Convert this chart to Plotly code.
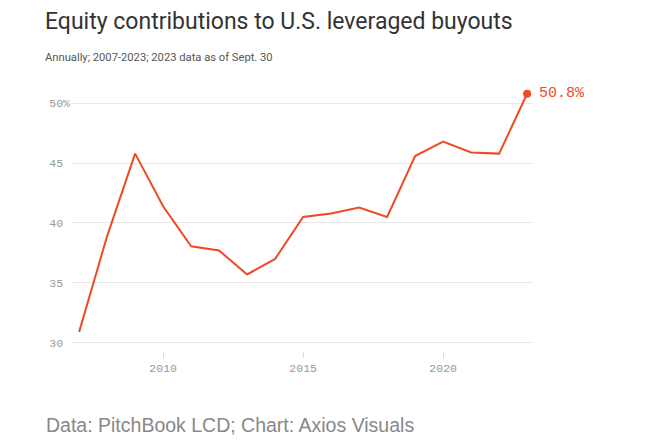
import plotly.graph_objects as go

years = list(range(2007, 2024))
equity_share = [30.9, 38.9, 45.8, 41.4, 38.05, 37.7, 35.7, 37.0, 40.5, 40.8, 41.3, 40.5, 45.6, 46.8, 45.9, 45.8, 50.8]
y_ticks = [30, 35, 40, 45, 50]
y_tick_labels = ["30\u00a0", "35\u00a0", "40\u00a0", "45\u00a0", "50%"]
x_ticks = [2010, 2015, 2020]

LINE = "#EE4B23"
MONO = "Liberation Mono, DejaVu Sans Mono, monospace"

# page body adds an 8px offset; layout is computed in reference pixels minus 8
OFF = 8
L, R, T, B = 71 - OFF, 533 - OFF, 89 - OFF, 351 - OFF

fig = go.Figure()
fig.add_trace(go.Scatter(
    x=years, y=equity_share, mode="lines",
    line=dict(color=LINE, width=2), hoverinfo="skip", showlegend=False,
))
fig.add_trace(go.Scatter(
    x=[years[-1]], y=[equity_share[-1]], mode="markers",
    marker=dict(color=LINE, size=8),
    cliponaxis=False, hoverinfo="skip", showlegend=False,
))
fig.add_annotation(
    x=years[-1], y=equity_share[-1], xref="x", yref="y",
    text=f"{equity_share[-1]:.1f}%", showarrow=False, xanchor="left", yanchor="middle",
    xshift=10, font=dict(family=MONO, size=15, color=LINE),
)

fig.update_layout(
    width=660, height=445,
    margin=dict(l=L, r=660 - R, t=T, b=445 - B),
    paper_bgcolor="white", plot_bgcolor="white",
    xaxis=dict(
        range=[2006.71, 2023.21], tickvals=x_ticks, showgrid=False, zeroline=False,
        showline=False, ticks="outside", ticklen=6, tickcolor="#dddddd",
        tickfont=dict(family=MONO, size=11.5, color="#999999"),
    ),
    yaxis=dict(
        range=[29.3, 51.2], tickvals=y_ticks, ticktext=y_tick_labels,
        showgrid=True, gridcolor="#e8e8e8", gridwidth=1, zeroline=False, showline=False,
        ticks="", tickfont=dict(family=MONO, size=11.5, color="#999999"),
    ),
)

ph = B - T
pw = R - L
def py(pix):
    return (B - (pix - OFF)) / ph
def px(pix):
    return ((pix - OFF) - L) / pw

fig.add_annotation(text="Equity contributions to U.S. leveraged buyouts", xref="paper", yref="paper",
                   x=px(43), y=py(22), xanchor="left", yanchor="middle", showarrow=False,
                   font=dict(family="Roboto", size=23, color="#333333"))
fig.add_annotation(text="Annually; 2007-2023; 2023 data as of Sept. 30", xref="paper", yref="paper",
                   x=px(43), y=py(57), xanchor="left", yanchor="middle", showarrow=False,
                   font=dict(family="Roboto", size=11.2, color="#555555"))
fig.add_annotation(text="Data: PitchBook LCD; Chart: Axios Visuals", xref="paper", yref="paper",
                   x=px(44), y=py(425), xanchor="left", yanchor="middle", showarrow=False,
                   font=dict(family="Liberation Sans, Arial", size=19.5, color="#888888"))

fig.write_html("out.html")
